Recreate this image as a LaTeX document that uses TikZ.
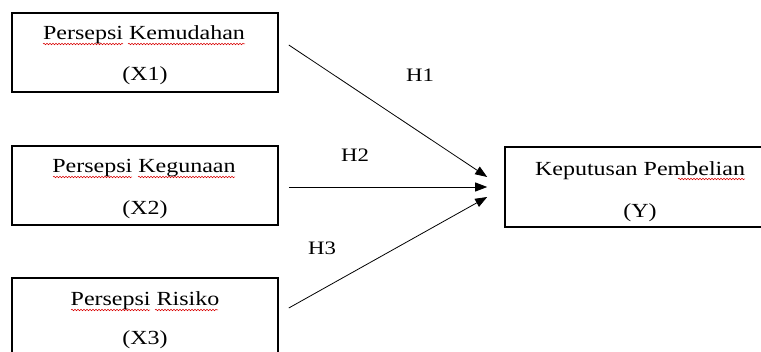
\documentclass[tikz,border=0pt]{standalone}
\usepackage{fontspec}
\setmainfont{Liberation Serif}[FakeStretch=1.2]
\usetikzlibrary{arrows.meta,decorations.pathmorphing}
\begin{document}
\begin{tikzpicture}[x=1pt,y=-1pt,
  box/.style={draw=black, line width=1.6pt, rectangle, inner sep=0pt},
  txt/.style={anchor=base, inner sep=0pt, font=\fontsize{20}{24}\selectfont},
  hlab/.style={anchor=base, inner sep=0pt, font=\fontsize{19}{23}\selectfont},
  arr/.style={line width=0.8pt, -{Triangle[length=12pt,width=9pt]}},
  squig/.style={draw=red!85!black, line width=0.5pt, decorate, decoration={snake, amplitude=0.8pt, segment length=3pt}}]
\useasboundingbox (0,0) rectangle (761,352);
\clip (0,0) rectangle (761,352);
\fill[white] (0,0) rectangle (761,352);
% boxes
\node[box, minimum width=266pt, minimum height=79pt] (x1) at (145,52.5) {};
\node[box, minimum width=266pt, minimum height=79pt] (x2) at (145,185.5) {};
\node[box, minimum width=266pt, minimum height=90pt] (x3) at (145,323) {};
\node[box, minimum width=270pt, minimum height=80pt] (y) at (640,187) {};
% texts
\node[txt] (x1a) at (144,40) {Persepsi Kemudahan};
\node[txt] (x1b) at (145,81) {(X1)};
\node[txt] (x2a) at (144,173) {Persepsi Kegunaan};
\node[txt] (x2b) at (145,215) {(X2)};
\node[txt] (x3a) at (145,306) {Persepsi Risiko};
\node[txt] (x3b) at (145,345) {(X3)};
\node[txt] (ya) at (640,176) {Keputusan Pembelian};
\node[txt] (yb) at (640,218) {(Y)};
% spell-check squiggles
\draw[squig] (43,44) -- (123,44);
\draw[squig] (128,44) -- (245,44);
\draw[squig] (53,177) -- (132,177);
\draw[squig] (138,177) -- (235,177);
\draw[squig] (71,310) -- (150,310);
\draw[squig] (155,310) -- (218,310);
\draw[squig] (678,179) -- (745,179);
% arrows
\draw[arr] ([xshift=10pt,yshift=7.5pt]x1.east) -- ([xshift=-17pt,yshift=10pt]y.west);
\draw[arr] ([xshift=10pt,yshift=-1.5pt]x2.east) -- ([xshift=-17pt]y.west);
\draw[arr] ([xshift=10pt,yshift=15pt]x3.east) -- ([xshift=-17pt,yshift=-10pt]y.west);
% hypothesis labels
\node[hlab] (h1) at (420,82) {H1};
\node[hlab] (h2) at (355,162) {H2};
\node[hlab] (h3) at (322,255) {H3};
\end{tikzpicture}
\end{document}
